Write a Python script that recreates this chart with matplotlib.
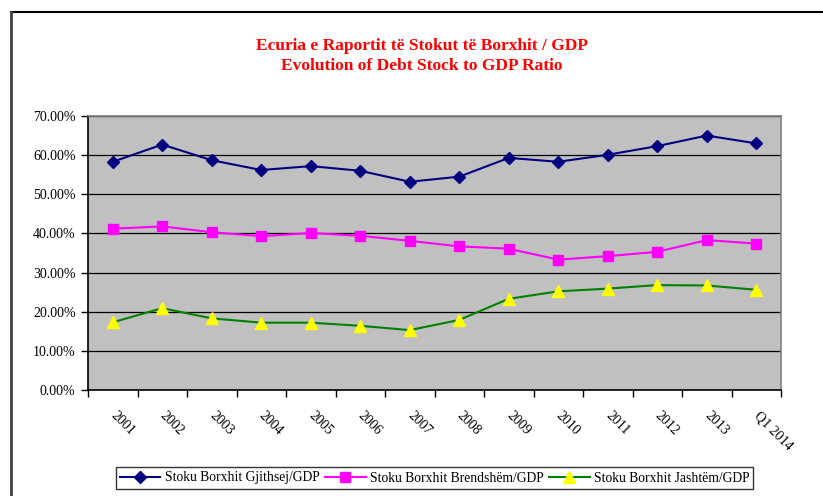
import matplotlib
matplotlib.use("Agg")
import matplotlib.pyplot as plt
from matplotlib.lines import Line2D
from matplotlib.ticker import FuncFormatter

plt.rcParams["font.family"] = ["Liberation Serif", "DejaVu Serif"]

# data (percent of GDP)
periods = ["2001", "2002", "2003", "2004", "2005", "2006", "2007", "2008",
           "2009", "2010", "2011", "2012", "2013", "Q1 2014"]
total = [58.3, 62.7, 58.7, 56.2, 57.2, 56.0, 53.2, 54.5, 59.3, 58.3, 60.1, 62.3, 65.0, 63.0]
domestic = [41.2, 41.8, 40.3, 39.3, 40.1, 39.4, 38.1, 36.7, 36.1, 33.3, 34.2, 35.3, 38.3, 37.4]
external = [17.3, 20.9, 18.3, 17.2, 17.2, 16.4, 15.3, 17.9, 23.3, 25.2, 25.9, 26.8, 26.7, 25.6]

labels = ["Stoku Borxhit Gjithsej/GDP", "Stoku Borxhit Brendshëm/GDP",
          "Stoku Borxhit Jashtëm/GDP"]
title = "Ecuria e Raportit të Stokut të Borxhit / GDP\nEvolution of Debt Stock to GDP Ratio"

W, H = 823, 496
fig = plt.figure(figsize=(W / 100, H / 100), dpi=100)
ax = fig.add_axes([88 / W, 1 - 390 / H, (781 - 88) / W, (390 - 116) / H])
ax.set_facecolor("#C0C0C0")

x = list(range(len(periods)))
ax.plot(x, total, color="#000080", lw=1.5, marker="D", ms=6.5,
        mfc="#000080", mec="#000080", label=labels[0], zorder=3)
ax.plot(x, domestic, color="#FF00FF", lw=1.5, marker="s", ms=7.5,
        mfc="#FF00FF", mec="#FF00FF", label=labels[1], zorder=3)
ax.plot(x, external, color="#008000", lw=1.5, marker="^", ms=8.5,
        mfc="#FFFF00", mec="#FFFF00", label=labels[2], zorder=3)

ax.set_ylim(0, 70)
ax.set_xlim(-0.5, len(periods) - 0.5)
ax.set_yticks(range(0, 71, 10))
ax.yaxis.set_major_formatter(FuncFormatter(lambda v, p: f"{v:.2f}%"))
ax.grid(axis="y", color="black", lw=0.9)
ax.set_axisbelow(True)

ax.set_xticks(x)
ax.set_xticklabels(periods, rotation=-45, rotation_mode="anchor",
                   ha="left", va="center", fontsize=10)
ax.set_xticks([i - 0.5 for i in range(len(periods) + 1)], minor=True)
ax.tick_params(axis="x", which="major", length=0, pad=17)
ax.tick_params(axis="x", which="minor", length=5, width=1, direction="out")
ax.tick_params(axis="y", length=5, width=1, labelsize=10, pad=4)

for s in ("left", "bottom"):
    ax.spines[s].set_color("black")
    ax.spines[s].set_linewidth(1.2)
for s in ("top", "right"):
    ax.spines[s].set_color("#808080")
    ax.spines[s].set_linewidth(1.2)

fig.text(0.513, 1 - 56 / H, title, color="#FF0000", fontsize=12.5, fontweight="bold",
         ha="center", va="center", linespacing=1.3)

leg = ax.legend(loc="center", bbox_to_anchor=(0.5, (1 - 478 / H - (1 - 390 / H)) / ((390 - 116) / H)),
                ncol=3, frameon=True, fancybox=False, fontsize=9.8,
                handlelength=3, handletextpad=0.3, columnspacing=0.4,
                borderpad=0.3, borderaxespad=0)
leg.get_frame().set_edgecolor("black")
leg.get_frame().set_linewidth(1)

# outer chart frame (top and left edges visible)
fig.add_artist(Line2D([11 / W, 1], [1 - 12 / H, 1 - 12 / H], color="black", lw=1.5))
fig.add_artist(Line2D([11 / W, 11 / W], [0, 1 - 12 / H], color="#404040", lw=2))

fig.savefig("out.png", dpi=100)
